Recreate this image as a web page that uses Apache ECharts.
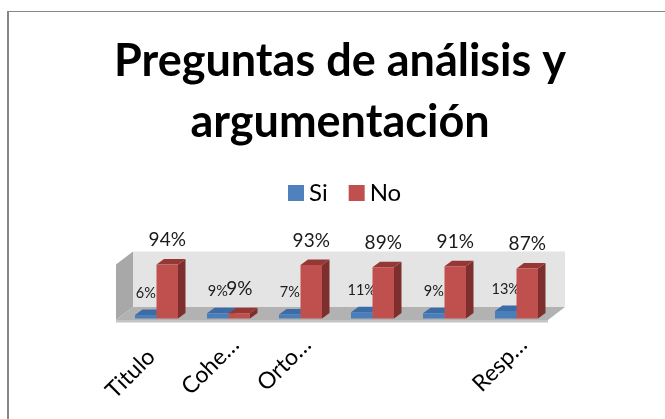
<!DOCTYPE html>
<html><head><meta charset="utf-8">
<style>html,body{margin:0;padding:0;background:#fff}#c{width:665px;height:419px}</style>
<script src="https://cdn.jsdelivr.net/npm/echarts@6/dist/echarts.min.js"></script>
</head><body><div id="c"></div>
<script>
var categories = ['Titulo','Cohe…','Orto…','','','Resp…'];
var siValues = [6,9,7,11,9,13];
var noValues = [94,9,93,89,91,87];
var FONT = 'Lato, "Noto Sans", sans-serif';
var chart = echarts.init(document.getElementById('c'));

function bar3d(offsetSign, front, top, side, labelSize, labelOff, labelDx) {
  return function (params, api) {
    var i = api.value(0), v = api.value(1);
    var p0 = api.coord([i, 0]), p1 = api.coord([i, v]);
    var w = 21.5, dx = 7.5, dy = 5.5;
    var xl = offsetSign < 0 ? p0[0] - w : p0[0], xr = xl + w;
    var yt = p1[1], yb = p0[1];
    return {
      type: 'group',
      children: [
        {type:'polygon', shape:{points:[[xr,yt],[xr+dx,yt-dy],[xr+dx,yb-dy],[xr,yb]]}, style:{fill:side}},
        {type:'polygon', shape:{points:[[xl,yt],[xl+dx,yt-dy],[xr+dx,yt-dy],[xr,yt]]}, style:{fill:top}},
        {type:'rect', shape:{x:xl,y:yt,width:w,height:yb-yt}, style:{fill:front}},
        {type:'text', z2:10, style:{x:xl+w/2+labelDx, y:yt-labelOff, text:v+'%', fill:'#1a1a1a',
          font:labelSize+'px '+FONT, align:'center', verticalAlign:'middle'}}
      ]
    };
  };
}

function room(params, api) {
  var c = params.coordSys;
  var L = c.x - 4.5, R = c.x + c.width - 4.5, F = c.y + c.height + 1.5;
  var T = F - 55.5, dx = 17, dy = 13;
  return {
    type: 'group',
    children: [
      {type:'rect', shape:{x:L+dx,y:T-dy,width:R-L,height:F-T}, style:{fill:'#e4e4e4'}},
      {type:'polygon', shape:{points:[[L,T],[L+dx,T-dy],[L+dx,F-dy],[L,F]]}, style:{fill:'#a8a8a8'}},
      {type:'polygon', shape:{points:[[L,F],[L+dx,F-dy],[R+dx,F-dy],[R,F]]}, style:{fill:'#b2b2b2'}},
      {type:'rect', shape:{x:L,y:F,width:R-L,height:2.5}, style:{fill:'#c4c4c4'}}
    ]
  };
}

chart.setOption({
  animation: false,
  backgroundColor: '#fff',
  title: {
    text: 'Preguntas de análisis y\nargumentación',
    left: 335, top: 26, textAlign: 'center',
    textStyle: {fontFamily: FONT, fontWeight: 'bold', fontSize: 45, lineHeight: 61, color: '#000'}
  },
  legend: {
    data: [{name:'Si'},{name:'No'}],
    left: 283, top: 176, itemWidth: 16, itemHeight: 16, itemGap: 21,
    icon: 'rect',
    textStyle: {fontFamily: FONT, fontSize: 24, color: '#000', padding: [0,0,0,0]}
  },
  grid: {left: 120.5, top: 261, width: 432, height: 57.5},
  xAxis: {
    type: 'category',
    data: categories.map(function (c, i) {
      return i === 0 ? {value: c, textStyle: {padding: [0,19,0,0], verticalAlign: 'top'}} : c;
    }),
    axisLine: {show:false}, axisTick: {show:false}, splitLine: {show:false},
    axisLabel: {rotate: 45, interval: 0, margin: 13, padding: [0,2,0,0], verticalAlign: 'top', fontFamily: FONT, fontSize: 23, color: '#000', hideOverlap: false}
  },
  yAxis: {type:'value', min:0, max:100, show:false},
  graphic: [
    {type:'line', silent:true, shape:{x1:8,y1:11.5,x2:665,y2:11.5}, style:{stroke:'#868686', lineWidth:1.2}},
    {type:'line', silent:true, shape:{x1:8,y1:11,x2:8,y2:419}, style:{stroke:'#868686', lineWidth:2}}
  ],
  series: [
    {name:'room', type:'custom', renderItem: room, data:[[0,0]], silent:true, z:1,
     encode:{x:0,y:1}, clip:false},
    {name:'Si', type:'custom', z:2, clip:false, itemStyle:{color:'#4F81BD', borderColor:'#3f6da3'},
     renderItem: bar3d(-1,'#4a7ebb','#3c6ca6','#335d8f',14.5,22,0),
     data: siValues.map(function(v,i){return [i,v];}), encode:{x:0,y:1}},
    {name:'No', type:'custom', z:3, clip:false, itemStyle:{color:'#C0504D', borderColor:'#a5413e'},
     renderItem: bar3d(1,'#c0504d','#953735','#7c2f2d',19,24.5,0),
     data: noValues.map(function(v,i){return [i,v];}), encode:{x:0,y:1}}
  ]
});
</script></body></html>
